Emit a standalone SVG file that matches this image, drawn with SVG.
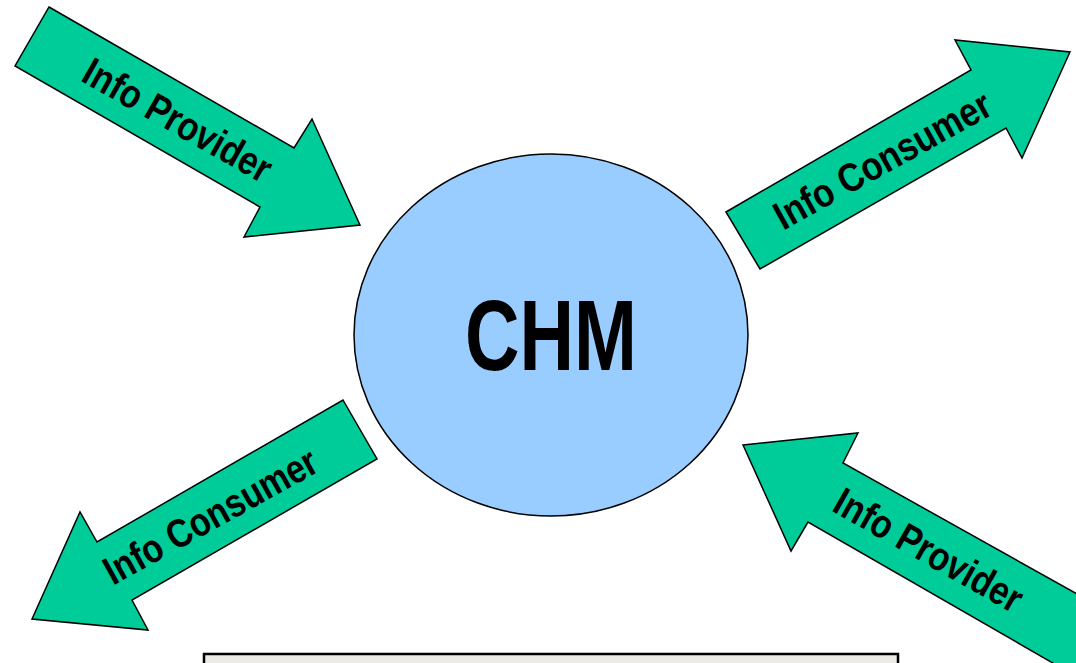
<svg xmlns="http://www.w3.org/2000/svg" width="1076" height="663" viewBox="0 0 1076 663">
<style>
.arrow{fill:#00CC99;stroke:#000;stroke-width:1.5;stroke-linejoin:miter}
.lbl{font-family:"Liberation Sans",Arial,sans-serif;font-weight:bold;font-size:40px;fill:#000;text-anchor:middle}
</style>
<rect width="1076" height="663" fill="#fff"/>
<g id="connectors">
<g id="arrow-provider-top">
<polygon class="arrow" points="49,7 294,148 312,119 360,225 244,237 260,207 15,66"/>
<text class="lbl" transform="translate(171,132) rotate(29.5)" textLength="210" lengthAdjust="spacingAndGlyphs">Info Provider</text>
</g>
<g id="arrow-consumer-top">
<polygon class="arrow" points="726,212 971,70 955,40 1070,52 1022,158 1006,128 760,269"/>
<text class="lbl" transform="translate(889,172) rotate(-29)" textLength="242" lengthAdjust="spacingAndGlyphs">Info Consumer</text>
</g>
<g id="arrow-consumer-bottom">
<polygon class="arrow" points="343,400 377,459 132,600 148,630 32,619 80,512 97,542"/>
<text class="lbl" transform="translate(217,528) rotate(-29)" textLength="238" lengthAdjust="spacingAndGlyphs">Info Consumer</text>
</g>
<g id="arrow-provider-bottom">
<polygon class="arrow" points="743,445 858,433 843,463 1120,618 1084,681 808,522 791,551"/>
<text class="lbl" transform="translate(922,562) rotate(29.5)" textLength="210" lengthAdjust="spacingAndGlyphs">Info Provider</text>
</g>
</g>
<g id="chm">
<ellipse cx="551" cy="335" rx="197" ry="181" fill="#99CCFF" stroke="#000" stroke-width="1.5"/>
<text x="551" y="370" font-family="'Liberation Sans',Arial,sans-serif" font-weight="bold" font-size="100" text-anchor="middle" textLength="172" lengthAdjust="spacingAndGlyphs">CHM</text>
</g>
<g id="box">
<rect x="204" y="654" width="694" height="30" fill="#ECEBE6" stroke="#000" stroke-width="2.5"/>
</g>
</svg>
